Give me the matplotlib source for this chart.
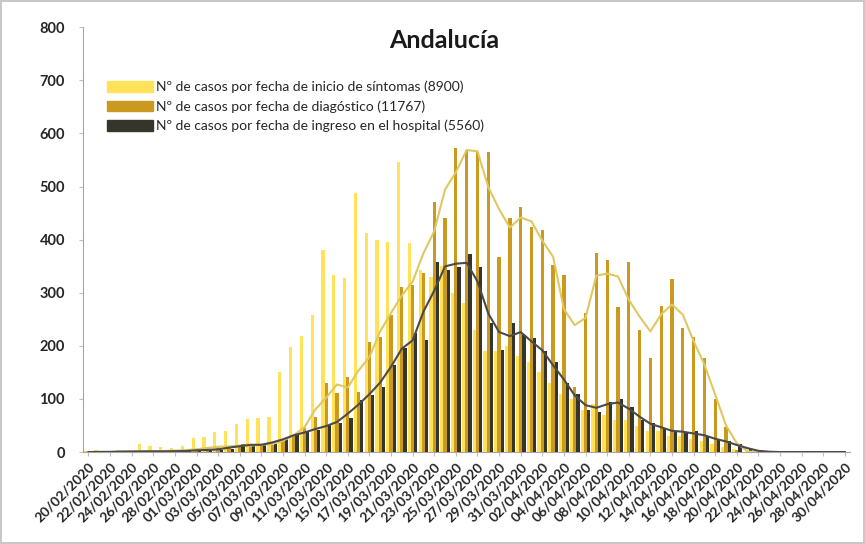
import numpy as np
import pandas as pd
import matplotlib
matplotlib.use("Agg")
import matplotlib.pyplot as plt
from matplotlib.patches import Patch

plt.rcParams['font.family'] = ['Lato', 'DejaVu Sans']

# fechas: 20/02/2020 .. 30/04/2020 (un valor por dia)
fechas = pd.date_range("2020-02-20", "2020-04-30", freq="D")
etiquetas = [f.strftime("%d/%m/%Y") for f in fechas]

# casos por fecha de inicio de sintomas
sintomas = [2, 3, 1, 4, 3, 15, 12, 10, 8, 12,
            26, 28, 38, 40, 52, 63, 64, 66, 151, 198,
            218, 258, 380, 333, 328, 488, 412, 399, 396, 546,
            393, 343, 330, 350, 300, 280, 230, 190, 190, 200,
            180, 170, 150, 130, 110, 100, 80, 90, 70, 60,
            60, 50, 40, 40, 30, 30, 25, 20, 15, 10,
            5, 0, 0, 0, 0, 0, 0, 0, 0, 0, 0]

# casos por fecha de diagnostico
diagnostico = [0, 0, 0, 1, 0, 2, 1, 2, 3, 3,
               5, 8, 10, 12, 10, 15, 12, 14, 20, 30,
               45, 66, 130, 111, 141, 113, 207, 217, 258, 311,
               315, 337, 471, 440, 572, 569, 565, 565, 367, 440,
               461, 424, 418, 352, 333, 122, 262, 374, 361, 273,
               358, 230, 177, 275, 326, 233, 217, 177, 100, 47,
               3, 0, 0, 0, 0, 0, 0, 0, 0, 0, 0]

# casos por fecha de ingreso en el hospital
hospital = [0, 0, 1, 0, 2, 1, 1, 2, 1, 2,
            3, 5, 4, 6, 15, 12, 14, 15, 25, 32,
            38, 41, 51, 55, 64, 98, 107, 122, 164, 196,
            224, 211, 358, 343, 348, 373, 348, 243, 192, 243,
            220, 215, 190, 170, 130, 110, 80, 75, 95, 100,
            85, 60, 55, 45, 40, 35, 40, 30, 25, 20,
            15, 5, 2, 0, 0, 0, 0, 0, 0, 0, 0]

nombres = ["Nº de casos por fecha de inicio de síntomas (8900)",
           "Nº de casos por fecha de diagóstico (11767)",
           "Nº de casos por fecha de ingreso en el hospital (5560)"]

c_sint = "#FFE15A"
c_diag = "#C99A1E"
c_hosp = "#35352C"

fig = plt.figure(figsize=(8.65, 5.44), dpi=100)
fig.patch.set_edgecolor("#c8c8c8")
fig.patch.set_linewidth(1.5)
ax = fig.add_axes([0.096, 0.169, 0.887, 0.781])

x = np.arange(len(fechas))
w = 0.3
ax.bar(x - w, sintomas, w, color=c_sint, zorder=1)
ax.bar(x, diagnostico, w, color=c_diag, zorder=2)
ax.bar(x + w, hospital, w, color=c_hosp, zorder=3)

# medias moviles (3 dias) de diagnostico y hospital
mm_diag = pd.Series(diagnostico).rolling(3, center=True, min_periods=1).mean()
mm_hosp = pd.Series(hospital).rolling(3, center=True, min_periods=1).mean()
ax.plot(x, mm_diag, color="#DEC862", lw=1.5, zorder=4)
ax.plot(x, mm_hosp, color="#4A4A4A", lw=1.5, zorder=5)

ax.set_xlim(-0.5, len(x) - 0.5)
ax.set_ylim(0, 800)
ax.set_yticks(range(0, 801, 100))
ax.set_xticks(x[::2])
ax.set_xticklabels(etiquetas[::2], rotation=45, ha="right",
                   rotation_mode="anchor", fontsize=10, fontweight="bold",
                   color="#262626")
for t in ax.get_yticklabels():
    t.set_fontsize(10.5)
    t.set_fontweight("bold")
    t.set_color("#262626")
ax.tick_params(axis="y", length=3, color="#bfbfbf", pad=10)
ax.tick_params(axis="x", length=3, color="#bfbfbf", pad=3)
for s in ["top", "right"]:
    ax.spines[s].set_visible(False)
ax.spines["left"].set_color("#a6a6a6")
ax.spines["bottom"].set_color("#a6a6a6")

fig.text(0.514, 0.926, "Andalucía", ha="center", va="center",
         fontsize=18, fontweight="bold", color="#1a1a1a")

handles = [Patch(color=c_sint), Patch(color=c_diag), Patch(color=c_hosp)]
ax.legend(handles, nombres, loc="upper left",
          bbox_to_anchor=(100 / 865, 1 - 74 / 544),
          bbox_transform=fig.transFigure, frameon=False, fontsize=10,
          handlelength=3.3, handleheight=0.8, handletextpad=0.2,
          labelspacing=0.5, borderpad=0, labelcolor="#262626")

fig.savefig("out.png", dpi=100, edgecolor=fig.get_edgecolor())
